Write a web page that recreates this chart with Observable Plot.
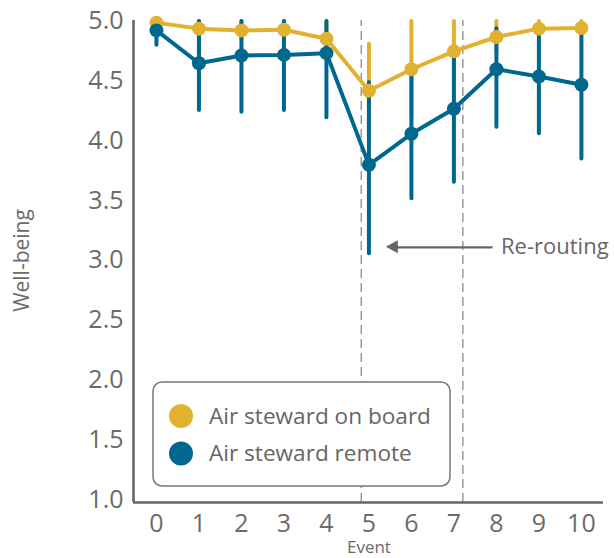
<!DOCTYPE html>
<html>
<head>
<meta charset="utf-8">
<script src="https://cdn.jsdelivr.net/npm/d3@7"></script>
<script src="https://cdn.jsdelivr.net/npm/@observablehq/plot@0.6"></script>
<style>
  html, body { margin: 0; padding: 0; background: #fff; }
  #chart { width: 614px; height: 558px; }
</style>
</head>
<body>
<div id="chart"></div>
<script>
// ---- data ----
const events = [0, 1, 2, 3, 4, 5, 6, 7, 8, 9, 10];
const seriesNames = ["Air steward on board", "Air steward remote"];
const seriesColors = ["#E2B130", "#00678E"];

const onboardMean = [4.99, 4.94, 4.925, 4.93, 4.855, 4.42, 4.60, 4.75, 4.87, 4.94, 4.945];
const onboardLow  = [4.95, 4.85, 4.85, 4.85, 4.70, 4.03, 4.20, 4.50, 4.74, 4.88, 4.89];
const onboardHigh = [5.0, 5.0, 5.0, 5.0, 5.0, 4.81, 5.0, 5.0, 5.0, 5.0, 5.0];

const remoteMean = [4.925, 4.65, 4.715, 4.72, 4.735, 3.80, 4.06, 4.27, 4.60, 4.54, 4.47];
const remoteLow  = [4.80, 4.255, 4.24, 4.255, 4.195, 3.056, 3.516, 3.655, 4.115, 4.06, 3.85];
const remoteHigh = [5.0, 5.0, 5.0, 5.0, 5.0, 4.49, 4.60, 4.75, 4.94, 4.94, 4.94];

const yTicks = [1.0, 1.5, 2.0, 2.5, 3.0, 3.5, 4.0, 4.5, 5.0];
const xTicks = events;
const dashedEvents = [4.82, 7.21];
const annotationText = "Re-routing";
const arrowFrom = 7.92, arrowTo = 5.41, arrowY = 3.11;
const xLabel = "Event";
const yLabel = "Well-being";

// ---- build tables ----
const onboard = events.map((e, i) => ({event: e, mean: onboardMean[i], lo: onboardLow[i], hi: onboardHigh[i]}));
const remote = events.map((e, i) => ({event: e, mean: remoteMean[i], lo: remoteLow[i], hi: remoteHigh[i]}));

const X_DOMAIN = [-0.54, 10.52];
const Y_DOMAIN = [0.975, 5.008];
const AX = "#666";

const plot = Plot.plot({
  width: 614,
  height: 558,
  marginLeft: 133,
  marginRight: 11,
  marginTop: 20,
  marginBottom: 56,
  style: {fontFamily: "'Open Sans', sans-serif", color: "#666", background: "#fff"},
  x: {domain: X_DOMAIN, axis: null},
  y: {domain: Y_DOMAIN, axis: null},
  marks: [
    // dashed event markers
    Plot.ruleX(dashedEvents, {y1: Y_DOMAIN[0], y2: Y_DOMAIN[1], stroke: "#9a9a9a", strokeWidth: 1.5, strokeDasharray: "9,5"}),
    // annotation arrow line
    Plot.ruleY([arrowY], {x1: arrowFrom, x2: arrowTo + 0.25, stroke: "#666", strokeWidth: 2.2}),
    // axes lines
    Plot.ruleY([Y_DOMAIN[0]], {x1: X_DOMAIN[0], x2: X_DOMAIN[1], stroke: AX, strokeWidth: 2.6}),
    Plot.ruleX([X_DOMAIN[0]], {y1: Y_DOMAIN[0], y2: Y_DOMAIN[1], stroke: AX, strokeWidth: 2.6}),
    Plot.axisY(yTicks, {tickSize: 0, tickPadding: 10, tickFormat: d => d.toFixed(1), fontSize: 25, fill: "#6b6b6b", label: null}),
    Plot.axisX(xTicks, {tickSize: 0, tickPadding: 12, tickFormat: d => String(d), fontSize: 25, fill: "#6b6b6b", label: null}),
    Plot.text([xLabel], {x: 5, frameAnchor: "bottom", dy: 50, text: d => d, fontSize: 17, fill: "#6b6b6b"}),
    Plot.text([yLabel], {y: 3.0, frameAnchor: "left", dx: -111, rotate: -90, textAnchor: "middle", text: d => d, fontSize: 21, fill: "#6b6b6b"}),
    Plot.text([annotationText], {x: arrowFrom, y: arrowY, dx: 8, textAnchor: "start", text: d => d, fontSize: 22, fill: "#666"}),
    // error bars
    Plot.ruleX(onboard, {x: "event", y1: "lo", y2: "hi", stroke: seriesColors[0], strokeWidth: 4, strokeLinecap: "round"}),
    Plot.ruleX(remote, {x: "event", y1: "lo", y2: "hi", stroke: seriesColors[1], strokeWidth: 4, strokeLinecap: "round"}),
    // on board line + dots
    Plot.line(onboard, {x: "event", y: "mean", stroke: seriesColors[0], strokeWidth: 4, strokeLinejoin: "round"}),
    Plot.dot(onboard, {x: "event", y: "mean", r: 7, fill: seriesColors[0]}),
    // remote line + dots
    Plot.line(remote, {x: "event", y: "mean", stroke: seriesColors[1], strokeWidth: 4, strokeLinejoin: "round"}),
    Plot.dot(remote, {x: "event", y: "mean", r: 7, fill: seriesColors[1]})
  ]
});

document.getElementById("chart").appendChild(plot);

// arrow head (filled triangle) via the plot's scales
const sx = plot.scale("x"), sy = plot.scale("y");
const svg = d3.select(plot);
const tipX = sx.apply(arrowTo), tipY = sy.apply(arrowY);
svg.append("path")
  .attr("d", `M${tipX},${tipY} L${tipX + 12},${tipY - 6.5} L${tipX + 12},${tipY + 6.5} Z`)
  .attr("fill", "#666");

// legend box
const lg = svg.append("g").attr("font-family", "'Open Sans', sans-serif").attr("text-anchor", "start");
lg.append("rect")
  .attr("x", 153).attr("y", 382).attr("width", 297).attr("height", 104)
  .attr("rx", 9).attr("fill", "#fff").attr("stroke", "#777").attr("stroke-width", 1.5);
seriesNames.forEach((name, i) => {
  const cy = 416 + i * 37.5;
  lg.append("circle").attr("cx", 181).attr("cy", cy).attr("r", 12).attr("fill", seriesColors[i]);
  lg.append("text").attr("x", 209).attr("y", cy).attr("dy", "0.35em")
    .attr("text-anchor", "start")
    .attr("font-size", 22.6).attr("fill", "#666").text(name);
});
</script>
</body>
</html>
